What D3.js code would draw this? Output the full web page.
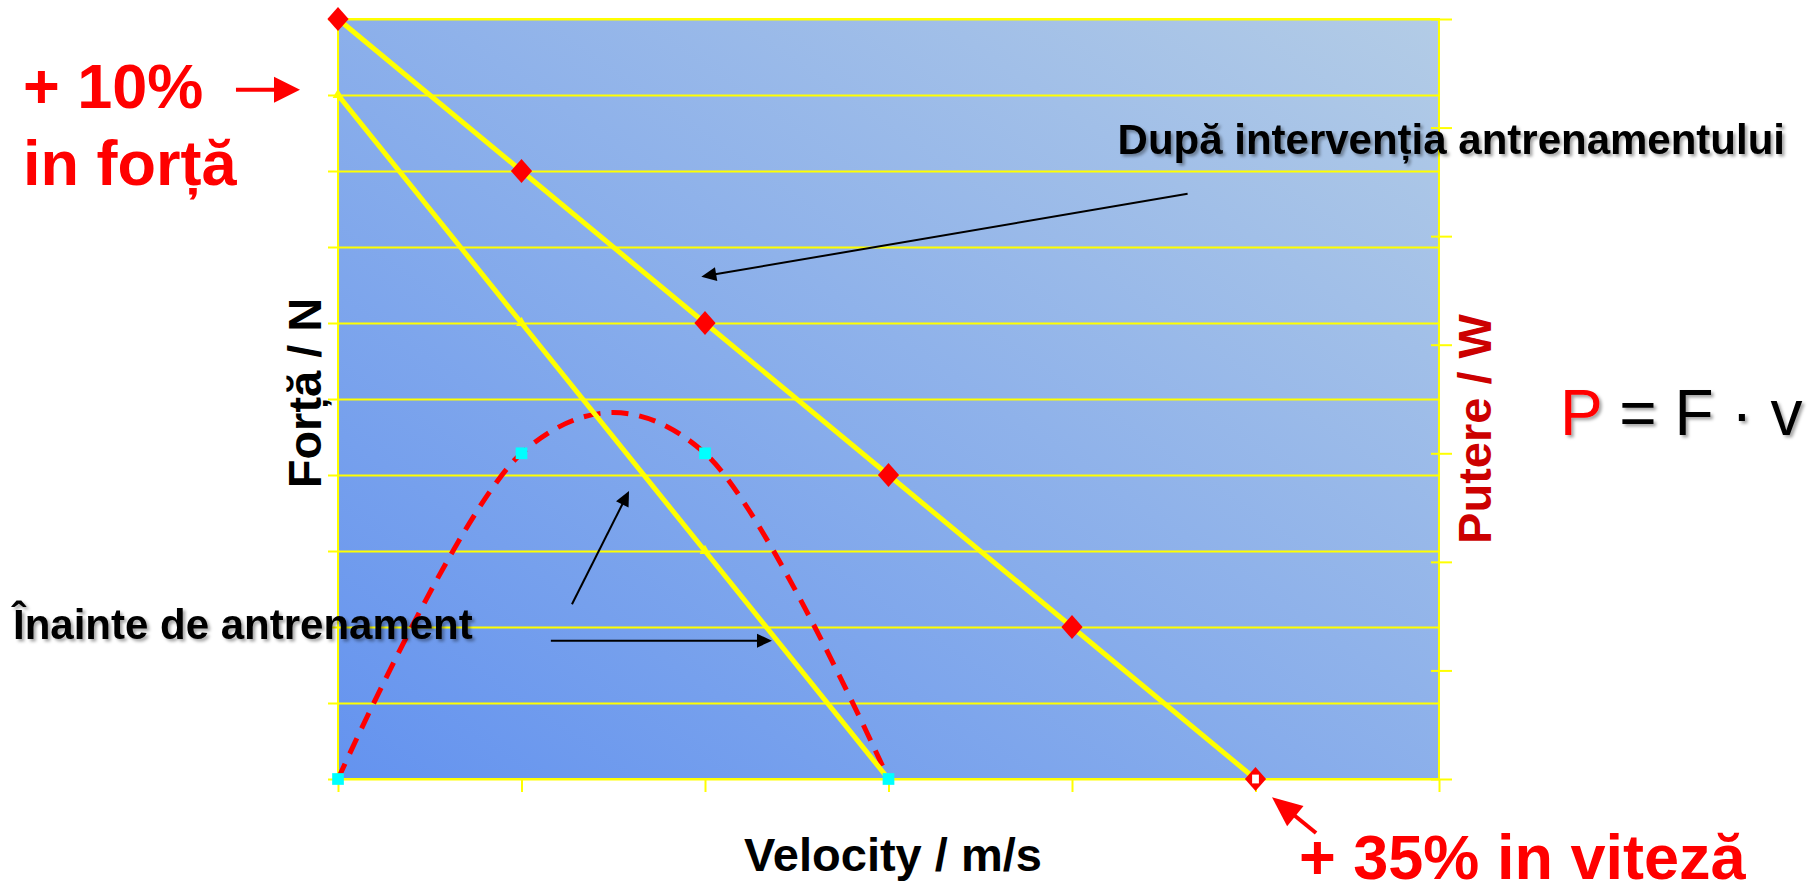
<!DOCTYPE html>
<html>
<head>
<meta charset="utf-8">
<script src="https://cdn.jsdelivr.net/npm/d3@7"></script>
<style>
body{margin:0;background:#fff;}
text{font-family:"Liberation Sans", Arial, sans-serif;}
</style>
</head>
<body>
<div id="chart"></div>
<script>
// tick values of the three axes
let velocityTicks = [0,1,2,3,4,5,6];
let forceTicks = [0,1,2,3,4,5,6,7,8,9,10];
let powerTicks = [0,2,4,6,8,10,12,14];

// force-velocity after training (red diamonds)
let afterVelocity = [0,1,2,3,4,5];
let afterForce = [10,8,6,4,2,0];
// force-velocity before training (small yellow triangles)
let beforeVelocity = [0,1,2,3];
let beforeForce = [9,6,3,0];
// power before training (dashed red, cyan squares), right axis
let powerVelocity = [0,1,2,3];
let powerValues = [0,6,6,0];

// annotation arrows in velocity / force units: [x1,y1,x2,y2]
let blackArrows = [[4.63,7.70,1.98,6.61],[1.275,2.30,1.586,3.79],[1.16,1.82,2.365,1.82]];
let redArrows = [[-0.556,9.07,-0.207,9.07],[5.33,-0.71,5.09,-0.24]];

class PowerChart{
    constructor(){
        this.width = 1810;
        this.height = 893;
        this.left = 338;
        this.right = 1439;
        this.top = 19;
        this.bottom = 779;

        this.svg = d3.select("#chart").append("svg")
            .attr("width", this.width)
            .attr("height", this.height)
            .attr("id","power_svg");

        this.xScale = d3.scaleLinear().domain([0,6]).range([this.left, this.right]);
        this.yScale = d3.scaleLinear().domain([0,10]).range([this.bottom, this.top]);
        this.pScale = d3.scaleLinear().domain([0,14]).range([this.bottom, this.top]);
    }
    drawArrow(g, a, color, w, hl, hw){
        let x1 = this.xScale(a[0]), y1 = this.yScale(a[1]);
        let x2 = this.xScale(a[2]), y2 = this.yScale(a[3]);
        let len = Math.hypot(x2-x1, y2-y1);
        let ux = (x2-x1)/len, uy = (y2-y1)/len;
        let bx = x2-ux*hl, by = y2-uy*hl;
        g.append("line")
            .attr("x1", x1).attr("y1", y1)
            .attr("x2", bx+ux*1).attr("y2", by+uy*1)
            .attr("stroke", color).attr("stroke-width", w);
        g.append("path")
            .attr("d", "M"+x2+","+y2+"L"+(bx-uy*hw/2)+","+(by+ux*hw/2)+"L"+(bx+uy*hw/2)+","+(by-ux*hw/2)+"Z")
            .attr("fill", color);
    }
    draw(){
        let svg = this.svg;
        let defs = svg.append("defs");
        let grad = defs.append("linearGradient").attr("id","bg")
            .attr("x1",0).attr("y1",1).attr("x2",1).attr("y2",0);
        grad.append("stop").attr("offset","0%").attr("stop-color","#6493EF");
        grad.append("stop").attr("offset","100%").attr("stop-color","#B3CCE6");
        let sh = defs.append("filter").attr("id","shadow")
            .attr("x","-5%").attr("y","-20%").attr("width","115%").attr("height","150%");
        sh.append("feDropShadow").attr("dx",2.5).attr("dy",2.5).attr("stdDeviation",1.5)
            .attr("flood-color","#000").attr("flood-opacity",0.35);

        svg.append("rect")
            .attr("x", this.left).attr("y", this.top)
            .attr("width", this.right-this.left).attr("height", this.bottom-this.top)
            .attr("fill","url(#bg)");

        // grid lines and axes
        let gridGroup = svg.append("g").classed("gridGroup",true)
            .attr("transform","translate("+this.left+",0)")
            .call(d3.axisLeft(this.yScale).tickValues(forceTicks)
                .tickSize(-(this.right-this.left)).tickFormat(""));
        gridGroup.select(".domain").remove();
        gridGroup.selectAll("line").attr("stroke","#FFFF00").attr("stroke-width",2);

        let yAxisGroup = svg.append("g").classed("y-axis",true)
            .attr("transform","translate("+this.left+",0)")
            .call(d3.axisLeft(this.yScale).tickValues(forceTicks).tickSize(10).tickFormat(""));
        let pAxisGroup = svg.append("g").classed("p-axis",true)
            .attr("transform","translate("+this.right+",0)")
            .call(d3.axisRight(this.pScale).tickValues(powerTicks).tickSize(13).tickFormat(""));
        pAxisGroup.selectAll(".tick line").attr("x1",-8);
        let xAxisGroup = svg.append("g").classed("x-axis",true)
            .attr("transform","translate(0,"+this.bottom+")")
            .call(d3.axisBottom(this.xScale).tickValues(velocityTicks).tickSize(13).tickFormat(""));
        [yAxisGroup, pAxisGroup, xAxisGroup].forEach(g=>{
            g.select(".domain").remove();
            g.selectAll("line").attr("stroke","#FFFF00").attr("stroke-width",2);
        });

        svg.append("rect")
            .attr("x", this.left).attr("y", this.top)
            .attr("width", this.right-this.left).attr("height", this.bottom-this.top)
            .attr("fill","none").attr("stroke","#FFFF00").attr("stroke-width",2);

        // power curve (smoothed like the spreadsheet line)
        let powerData = powerVelocity.map((v,i)=>({v:v, p:powerValues[i]}));
        let powerLine = d3.line()
            .x(d => this.xScale(d.v))
            .y(d => this.pScale(d.p))
            .curve(d3.curveCardinal.tension(0));
        svg.append("path")
            .attr("d", powerLine(powerData))
            .attr("fill","none")
            .attr("stroke","#FF0000")
            .attr("stroke-width",5)
            .attr("stroke-dasharray","17,11");

        let beforeData = beforeVelocity.map((v,i)=>({v:v, f:beforeForce[i]}));
        let afterData = afterVelocity.map((v,i)=>({v:v, f:afterForce[i]}));
        let forceLine = d3.line()
            .x(d => this.xScale(d.v))
            .y(d => this.yScale(d.f));
        svg.append("path").attr("d", forceLine(beforeData))
            .attr("fill","none").attr("stroke","#FFFF00").attr("stroke-width",5);
        svg.append("path").attr("d", forceLine(afterData))
            .attr("fill","none").attr("stroke","#FFFF00").attr("stroke-width",5);

        // markers
        svg.append("g").selectAll("path")
            .data(beforeData).enter().append("path")
            .attr("d", d3.symbol().type(d3.symbolTriangle).size(50)())
            .attr("transform", d => "translate("+this.xScale(d.v)+","+this.yScale(d.f)+")")
            .attr("fill","#FFFF00");
        svg.append("g").selectAll("path")
            .data(afterData).enter().append("path")
            .attr("d", d3.symbol().type(d3.symbolSquare).size(225)())
            .attr("transform", d => "translate("+this.xScale(d.v)+","+this.yScale(d.f)+") scale(1,1.12) rotate(45)")
            .attr("fill","#FF0000");
        let lastPt = afterData[afterData.length-1];
        svg.append("path")
            .attr("d", d3.symbol().type(d3.symbolSquare).size(64)())
            .attr("transform", "translate("+this.xScale(lastPt.v)+","+this.yScale(lastPt.f)+") scale(0.85,1.1)")
            .attr("fill","#FFFFFF");
        svg.append("g").selectAll("path")
            .data(powerData).enter().append("path")
            .attr("d", d3.symbol().type(d3.symbolSquare).size(137)())
            .attr("transform", d => "translate("+this.xScale(d.v)+","+this.pScale(d.p)+")")
            .attr("fill","#00FFFF");

        // arrows
        let arrowGroup = svg.append("g");
        blackArrows.forEach(a => this.drawArrow(arrowGroup, a, "#000", 2, 15, 14));
        this.drawArrow(arrowGroup, redArrows[0], "#FF0000", 4, 26, 26);
        this.drawArrow(arrowGroup, redArrows[1], "#FF0000", 4, 30, 26);

        // labels
        let red = svg.append("g").attr("fill","#FF0000").attr("font-weight","bold").attr("font-size",63);
        red.append("text").attr("x",23).attr("y",108).text("+ 10%");
        red.append("text").attr("x",23).attr("y",185).text("in forță");
        red.append("text").attr("x",1299).attr("y",879).text("+ 35% in viteză");

        svg.append("text")
            .attr("transform","translate(321,393) rotate(-90)")
            .attr("text-anchor","middle")
            .attr("font-weight","bold").attr("font-size",47)
            .text("Forță / N");
        svg.append("text")
            .attr("transform","translate(1491,429) rotate(-90)")
            .attr("text-anchor","middle")
            .attr("font-weight","bold").attr("font-size",47)
            .attr("fill","#CC0000")
            .text("Putere / W");
        svg.append("text")
            .attr("x",893).attr("y",871)
            .attr("text-anchor","middle")
            .attr("font-weight","bold").attr("font-size",47)
            .text("Velocity / m/s");

        let notes = svg.append("g").attr("font-weight","bold").attr("font-size",42)
            .attr("filter","url(#shadow)");
        notes.append("text").attr("x",1785).attr("y",154).attr("text-anchor","end")
            .text("După intervenția antrenamentului");
        notes.append("text").attr("x",13).attr("y",639)
            .text("Înainte de antrenament");

        let formula = svg.append("text").attr("x",1560).attr("y",435)
            .attr("font-size",64).attr("filter","url(#shadow)");
        formula.append("tspan").attr("fill","#FF0000").text("P");
        formula.append("tspan").attr("fill","#000").text(" = F · v");
    }
}

let chart = new PowerChart();
chart.draw();
</script>
</body>
</html>
